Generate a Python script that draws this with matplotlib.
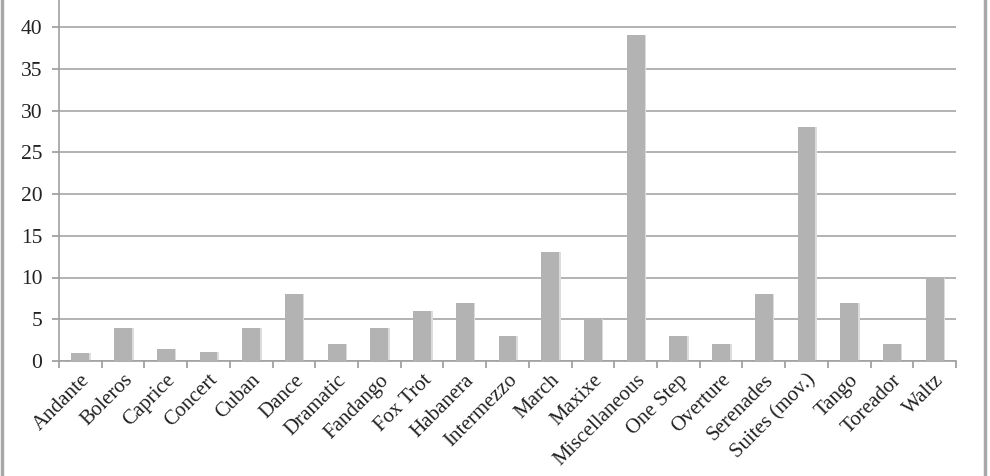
import matplotlib
matplotlib.use("Agg")
import matplotlib.pyplot as plt
import numpy as np

categories = ["Andante", "Boleros", "Caprice", "Concert", "Cuban", "Dance", "Dramatic",
              "Fandango", "Fox Trot", "Habanera", "Intermezzo", "March", "Maxixe",
              "Miscellaneous", "One Step", "Overture", "Serenades", "Suites (mov.)",
              "Tango", "Toreador", "Waltz"]
values = [1, 4, 1.4, 1.1, 4, 8, 2, 4, 6, 7, 3, 13, 5, 39, 3, 2, 8, 28, 7, 2, 10]
yticks = [0, 5, 10, 15, 20, 25, 30, 35, 40]

plt.rcParams['font.family'] = ['Liberation Serif', 'DejaVu Serif']

fig = plt.figure(figsize=(9.9, 4.76), dpi=100)
W, H = 990, 476
ax = fig.add_axes([59 / W, (H - 361) / H, (956 - 59) / W, 361 / H])

x = np.arange(len(categories))
# soft shadow
ax.bar(x + 0.035, values, width=0.42, color='#dcdcdc', zorder=2)
ax.bar(x, values, width=0.42, color='#b3b3b3', zorder=3)

ax.set_xlim(-0.5, len(categories) - 0.5)
ax.set_ylim(0, 361 / 8.35)
ax.set_yticks(yticks)
ax.set_yticklabels([str(t) for t in yticks], fontsize=15.5, color='#222222')
ax.yaxis.grid(True, color='#a6a6a6', linewidth=1.2, zorder=0)
ax.set_axisbelow(True)

ax.set_xticks(x)
ax.set_xticklabels(categories, rotation=45, ha='right', rotation_mode='anchor',
                   fontsize=15, color='#222222')
ax.set_xticks(np.arange(-0.5, len(categories), 1.0), minor=True)
ax.tick_params(axis='x', which='major', length=0, pad=7)
ax.tick_params(axis='x', which='minor', length=5, width=1.2, color='#999999', direction='out')
ax.tick_params(axis='y', length=5, width=1.2, color='#999999', direction='out', pad=7)

for s in ['top', 'right']:
    ax.spines[s].set_visible(False)
for s in ['left', 'bottom']:
    ax.spines[s].set_color('#a0a0a0')
    ax.spines[s].set_linewidth(1.2)

# outer chart frame borders
fig.add_artist(plt.Line2D([1.5 / W, 1.5 / W], [0, 1], color='#a8a8a8', linewidth=2.5,
                          transform=fig.transFigure))
fig.add_artist(plt.Line2D([985 / W, 985 / W], [0, 1], color='#a8a8a8', linewidth=2.5,
                          transform=fig.transFigure))

fig.savefig("out.png", dpi=100, facecolor='white')
